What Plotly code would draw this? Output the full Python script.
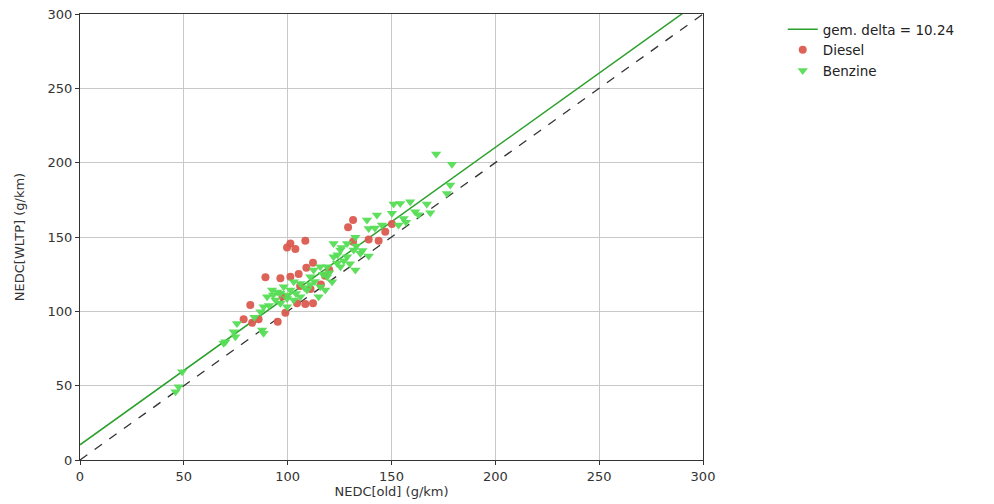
import plotly.graph_objects as go

delta = 10.24

diesel_x = [131.5, 129.1, 108.5, 101.3, 99.7, 103.7, 112.2, 109.0, 89.3, 96.5, 101.3, 105.3,
            82.0, 78.8, 82.9, 86.0, 95.2, 98.9, 104.5, 108.5, 112.2, 147.0, 143.8, 139.0,
            131.5, 150.2, 120.0, 111.0, 116.0, 97.5, 106.0, 118.0]
diesel_y = [161.4, 156.5, 147.5, 145.7, 143.0, 141.9, 132.7, 129.3, 122.9, 122.2, 123.3, 125.1,
            104.2, 94.6, 92.3, 94.6, 93.0, 99.0, 105.4, 104.9, 105.4, 153.5, 147.5, 148.4,
            146.8, 158.7, 128.0, 115.0, 118.0, 110.0, 117.0, 124.0]

benzine_x = [171.5, 179.1, 178.3, 176.7, 168.7, 167.0, 159.0, 154.2, 151.0, 161.4, 155.8, 153.4,
             150.2, 143.0, 138.2, 139.0, 145.4, 132.6, 128.6, 122.1, 125.4, 131.8, 135.0, 128.6,
             139.0, 122.1, 123.8, 119.0, 132.6, 125.4, 115.7, 112.5, 110.9, 119.0, 121.4, 115.7,
             118.1, 114.9, 109.3, 106.1, 102.9, 101.3, 98.1, 96.5, 92.5, 90.1, 94.1, 99.7,
             102.9, 106.1, 96.5, 99.7, 88.4, 86.9, 75.6, 74.0, 87.7, 88.4, 69.2, 49.2,
             46.0, 47.5, 70.0, 74.8, 126.0, 133.0, 124.0, 136.0, 113.0, 117.0, 104.0, 108.0,
             93.0, 95.0, 111.0, 120.0, 127.0, 130.0, 142.0, 157.0, 163.0, 100.0, 91.0, 84.0]
benzine_y = [205.8, 199.0, 185.0, 179.3, 166.3, 172.2, 173.7, 172.6, 172.2, 167.0, 162.5, 158.0,
             165.9, 164.8, 161.4, 155.8, 158.0, 149.8, 145.7, 145.7, 141.2, 141.2, 139.0, 136.7,
             137.2, 136.7, 132.3, 130.0, 127.8, 130.0, 130.0, 127.8, 123.3, 123.3, 119.9, 116.5,
             114.3, 109.8, 114.3, 118.8, 119.9, 114.3, 116.5, 112.1, 114.3, 109.8, 107.6, 108.7,
             107.6, 109.8, 105.4, 103.1, 103.1, 99.7, 91.9, 86.3, 87.4, 85.2, 78.5, 59.4,
             45.9, 49.3, 79.6, 82.9, 143.0, 144.0, 138.0, 141.0, 120.0, 125.0, 112.0, 116.0,
             111.0, 113.0, 118.0, 126.0, 134.0, 132.0, 156.0, 160.0, 165.0, 111.0, 104.0, 96.0]

axis_range = [0, 300]
ticks = [0, 50, 100, 150, 200, 250, 300]

fig = go.Figure()
fig.add_trace(go.Scatter(x=axis_range, y=axis_range, mode="lines",
                         line=dict(color="#333333", width=1.3, dash="dash"),
                         showlegend=False, hoverinfo="skip"))
fig.add_trace(go.Scatter(x=axis_range, y=[v + delta for v in axis_range], mode="lines",
                         line=dict(color="#2ca02c", width=1.5),
                         name="gem. delta = %.2f" % delta))
fig.add_trace(go.Scatter(x=diesel_x, y=diesel_y, mode="markers", name="Diesel",
                         marker=dict(symbol="circle", size=8, color="#db5a4f", opacity=0.95,
                                     line=dict(width=0))))
fig.add_trace(go.Scatter(x=benzine_x, y=benzine_y, mode="markers", name="Benzine",
                         marker=dict(symbol="triangle-down", size=9, color="#55dd55", opacity=0.95,
                                     line=dict(width=0))))

axis_common = dict(range=axis_range, tickvals=ticks, showgrid=True, gridcolor="#c8c8c8",
                   gridwidth=1, showline=True, linecolor="#333333", linewidth=1.3, mirror=True,
                   ticks="outside", ticklen=4, tickcolor="#333333", zeroline=False,
                   automargin=False, tickfont=dict(size=13, color="#333333"))

fig.update_layout(
    width=994, height=504,
    margin=dict(l=79.5, r=291, t=14, b=44),
    paper_bgcolor="white", plot_bgcolor="white",
    font=dict(family="DejaVu Sans", size=13, color="#333333"),
    xaxis=dict(title=dict(text="NEDC[old] (g/km)", standoff=4, font=dict(size=13)), **axis_common),
    yaxis=dict(title=dict(text="NEDC[WLTP] (g/km)", standoff=19, font=dict(size=13)), **axis_common),
    legend=dict(x=1.128, y=1.0, xanchor="left", yanchor="top",
                font=dict(size=13.5, color="#222222"), bgcolor="rgba(0,0,0,0)",
                tracegroupgap=0, itemwidth=30),
    showlegend=True,
)

fig.write_html("out.html", config={"displayModeBar": False},
               post_script="document.body.style.margin='0';")
